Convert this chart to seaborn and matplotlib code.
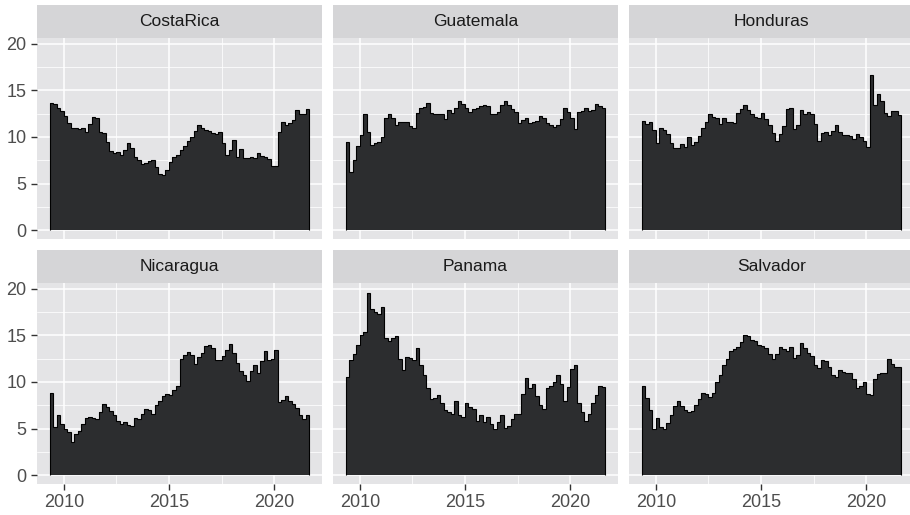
import numpy as np
import pandas as pd
import matplotlib
matplotlib.use('Agg')
import matplotlib.pyplot as plt
import seaborn as sns
from matplotlib.patches import Rectangle
from matplotlib.ticker import MultipleLocator

# bimonthly values, May 2009 .. Sep 2021
countries = ['CostaRica', 'Guatemala', 'Honduras', 'Nicaragua', 'Panama', 'Salvador']

costa_rica = [13.6, 13.5, 13.1, 12.8, 12.2, 11.5, 10.9, 10.9, 10.8, 11.0, 10.5, 11.4, 12.1, 12.0, 10.5,
              10.4, 9.5, 8.5, 8.3, 8.4, 8.1, 8.6, 9.3, 8.8, 7.8, 7.5, 7.1, 7.2, 7.4, 7.5,
              6.8, 6.0, 5.9, 6.4, 7.3, 7.8, 8.1, 8.6, 9.0, 9.6, 10.0, 10.6, 11.3, 10.9, 10.7,
              10.6, 10.4, 10.3, 10.5, 9.3, 8.1, 8.6, 9.7, 7.8, 8.7, 7.7, 7.7, 7.8, 7.7, 8.3,
              7.9, 7.8, 7.6, 6.9, 6.9, 10.5, 11.6, 11.3, 11.5, 11.8, 12.9, 12.4, 12.5, 13.0]
guatemala = [9.5, 6.2, 7.5, 9.0, 10.2, 12.4, 10.5, 9.1, 9.3, 9.5, 10.0, 12.0, 12.4, 12.0, 11.3,
             11.6, 11.6, 11.6, 11.2, 10.9, 12.6, 13.1, 13.2, 13.6, 12.6, 12.4, 12.4, 12.5, 11.9, 12.9,
             12.6, 13.1, 13.8, 13.5, 13.1, 12.7, 13.0, 13.1, 13.3, 13.4, 13.3, 12.4, 12.4, 12.7, 13.4,
             13.8, 13.4, 13.0, 12.7, 11.5, 11.8, 12.0, 11.5, 11.6, 11.7, 12.2, 12.0, 11.5, 11.3, 11.1,
             11.3, 11.9, 13.1, 12.7, 12.0, 10.8, 12.7, 12.8, 13.1, 12.8, 12.9, 13.5, 13.3, 13.1]
honduras = [11.7, 11.4, 11.6, 10.7, 9.3, 10.9, 10.7, 10.3, 9.3, 8.8, 8.8, 9.2, 8.9, 10.0, 9.1,
            9.5, 10.1, 10.9, 11.6, 12.4, 12.1, 12.0, 11.4, 12.0, 11.6, 11.6, 11.5, 12.6, 13.0, 13.4,
            12.9, 12.4, 12.1, 12.0, 12.6, 11.9, 11.3, 10.4, 9.6, 10.3, 11.2, 13.0, 13.1, 10.8, 11.3,
            12.9, 12.5, 12.7, 12.5, 11.4, 9.6, 10.4, 10.5, 10.2, 10.6, 11.3, 10.5, 10.2, 10.2, 10.1,
            9.8, 10.3, 10.0, 9.6, 8.9, 16.6, 13.4, 14.6, 13.8, 12.6, 12.2, 12.8, 12.8, 12.3]
nicaragua = [8.8, 5.2, 6.4, 5.5, 4.9, 4.6, 3.6, 4.4, 4.7, 5.5, 6.1, 6.2, 6.1, 6.0, 6.8,
             7.6, 7.3, 6.9, 6.4, 5.8, 5.5, 5.7, 5.4, 5.3, 6.1, 6.0, 6.6, 7.1, 7.0, 6.6,
             7.5, 8.0, 8.5, 8.7, 8.6, 9.1, 9.6, 12.4, 12.9, 13.2, 12.9, 11.9, 12.7, 13.1, 13.8,
             13.9, 13.6, 12.3, 12.3, 12.8, 13.4, 14.1, 13.1, 12.0, 11.2, 10.7, 10.1, 11.2, 11.8, 11.0,
             12.2, 13.3, 12.3, 12.4, 13.4, 7.8, 8.1, 8.5, 7.9, 7.6, 7.2, 6.4, 6.0, 6.5]
panama = [10.5, 12.3, 13.0, 14.0, 15.0, 15.4, 19.5, 17.8, 17.5, 17.3, 18.0, 14.7, 14.4, 14.7, 14.9,
          12.5, 11.3, 12.7, 12.6, 12.3, 13.6, 11.8, 10.7, 9.3, 8.2, 8.3, 8.6, 7.7, 7.0, 6.8,
          6.6, 8.0, 6.4, 6.2, 7.7, 7.3, 7.1, 5.8, 6.4, 5.7, 6.2, 5.5, 4.9, 5.7, 6.4,
          5.1, 5.3, 6.0, 6.6, 6.6, 8.7, 10.4, 9.3, 9.8, 8.5, 7.5, 7.1, 9.3, 9.6, 10.0,
          10.7, 9.8, 8.0, 9.5, 11.4, 11.8, 7.7, 6.8, 5.8, 6.6, 7.7, 8.6, 9.6, 9.4]
salvador = [9.6, 8.3, 7.0, 4.9, 6.1, 5.2, 5.0, 5.6, 6.5, 7.4, 7.9, 7.4, 7.0, 6.8, 6.9,
            7.5, 8.2, 8.8, 8.7, 8.4, 8.8, 10.0, 10.7, 11.8, 12.4, 13.3, 13.5, 13.7, 14.3, 15.0,
            14.9, 14.5, 14.4, 14.0, 13.8, 13.6, 13.0, 12.4, 13.0, 13.7, 13.5, 13.3, 13.7, 12.6, 12.9,
            14.2, 13.6, 13.1, 12.8, 11.8, 11.5, 12.3, 12.2, 11.6, 10.7, 10.5, 11.3, 11.1, 10.9, 10.9,
            10.3, 9.3, 9.6, 10.0, 8.7, 8.6, 10.3, 10.8, 10.9, 11.0, 12.5, 11.9, 11.6, 11.6]

series = [costa_rica, guatemala, honduras, nicaragua, panama, salvador]
periods = pd.date_range('2009-05-01', periods=len(costa_rica), freq='2MS')
step = 1 / 6
years = periods.year + (periods.month - 1) / 12

df = pd.concat([pd.DataFrame({'country': c, 'year': years, 'value': v})
                for c, v in zip(countries, series)], ignore_index=True)

sns.set_theme(style='darkgrid', rc={
    'axes.facecolor': '#E4E4E6',
    'grid.color': 'white',
    'figure.facecolor': 'white',
})
plt.rcParams['font.family'] = ['Liberation Sans', 'DejaVu Sans']

g = sns.FacetGrid(df, col='country', col_wrap=3, col_order=countries,
                  sharex=True, sharey=True, height=2, aspect=1.4)


def draw(data, **kws):
    ax = plt.gca()
    x = data['year'].to_numpy()
    y = data['value'].to_numpy()
    ax.bar(x, y, width=step, align='edge', color='#2c2d2f', linewidth=0)
    ax.stairs(y, np.append(x, x[-1] + step), baseline=0, color='black', lw=0.8)


g.map_dataframe(draw)
g.set_titles('')
g.set_axis_labels('', '')
fig = g.figure
fig.set_size_inches(9.1, 5.15)

W, H = 910, 515
lefts = [37, 333, 629]
tops = [38, 283]
pw, ph = 285, 201
x0, x1 = years[0], years[-1] + step
pad = (x1 - x0) * 0.05

for i, (ax, name) in enumerate(zip(g.axes.flat, countries)):
    r, c = divmod(i, 3)
    ax.set_position([lefts[c] / W, 1 - (tops[r] + ph) / H, pw / W, ph / H])
    ax.set_xlim(x0 - pad, x1 + pad)
    ax.set_ylim(-0.95, 20.6)
    ax.xaxis.set_major_locator(MultipleLocator(5))
    ax.xaxis.set_minor_locator(MultipleLocator(2.5))
    ax.yaxis.set_major_locator(MultipleLocator(5))
    ax.yaxis.set_minor_locator(MultipleLocator(2.5))
    ax.grid(which='major', color='white', lw=1.1)
    ax.grid(which='minor', color='white', lw=0.55)
    ax.set_axisbelow(True)
    for s in ax.spines.values():
        s.set_visible(False)
    ax.tick_params(which='minor', length=0)
    ax.tick_params(which='major', length=4.5, width=1, color='#333333',
                   labelsize=13, labelcolor='#4D4D4D', pad=3,
                   bottom=(r == 1), labelbottom=(r == 1),
                   left=(c == 0), labelleft=(c == 0))
    ax.xaxis.set_major_formatter(plt.FuncFormatter(lambda v, p: f'{v:.0f}'))
    ax.yaxis.set_major_formatter(plt.FuncFormatter(lambda v, p: f'{v:.0f}'))
    # facet strip
    sh = 33 / ph
    ax.add_patch(Rectangle((0, 1), 1, sh, transform=ax.transAxes, clip_on=False,
                           facecolor='#D5D5D7', edgecolor='none'))
    ax.text(0.5, 1 + sh / 2, name, transform=ax.transAxes, ha='center', va='center',
            fontsize=12.5, color='#1A1A1A')

fig.savefig('out.png', dpi=100)
